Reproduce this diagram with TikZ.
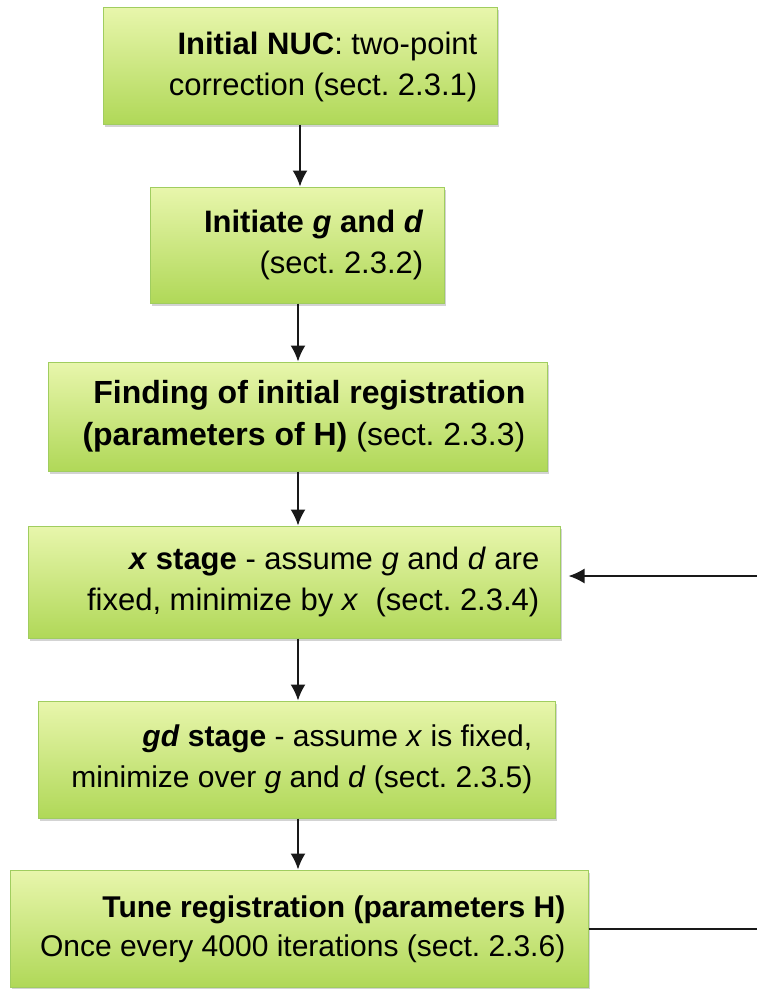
\documentclass[tikz,border=0pt]{standalone}
\usepackage{fontspec}
\setmainfont{Liberation Sans}
\frenchspacing
\usetikzlibrary{arrows.meta,shadows}
\definecolor{boxtop}{RGB}{232,246,172}
\definecolor{boxbot}{RGB}{176,216,88}
\definecolor{boxline}{RGB}{160,205,95}
\definecolor{arrowcol}{RGB}{25,25,25}
\tikzset{
  stagebox/.style={draw=boxline, line width=1pt, top color=boxtop, bottom color=boxbot,
    inner sep=0pt,
    drop shadow={opacity=0.35, shadow xshift=2pt, shadow yshift=-3pt}},
  stagetext/.style={anchor=east, inner sep=0pt, align=right,
    font=\fontsize{31pt}{41pt}\selectfont, text=black},
  flow/.style={draw=arrowcol, line width=1.8pt, -{Latex[length=16pt,width=15pt]}},
  plainline/.style={draw=arrowcol, line width=1.8pt}
}
\begin{document}
\begin{tikzpicture}[x=1pt,y=-1pt]
\useasboundingbox (0,0) rectangle (756,989);
\node[stagebox, minimum width=394pt, minimum height=117pt] (b1) at (300,65.5) {};
\node[stagebox, minimum width=294pt, minimum height=116pt] (b2) at (297,245) {};
\node[stagebox, minimum width=499pt, minimum height=109pt] (b3) at (297.5,416.5) {};
\node[stagebox, minimum width=532pt, minimum height=112pt] (b4) at (294,582) {};
\node[stagebox, minimum width=517pt, minimum height=117pt] (b5) at (296.5,759.5) {};
\node[stagebox, minimum width=578pt, minimum height=117pt] (b6) at (299,928.5) {};

\node[stagetext] (t1) at ([xshift=-20pt,yshift=-1pt]b1.east)
  {\textbf{Initial NUC}: two-point\\correction (sect. 2.3.1)};
\node[stagetext] (t2) at ([xshift=-21pt]b2.east)
  {\textbf{Initiate \textit{g} and \textit{d}}\\(sect. 2.3.2)};
\node[stagetext, font=\fontsize{32pt}{42pt}\selectfont] (t3) at ([xshift=-22pt]b3.east)
  {\textbf{Finding of initial registration}\\\textbf{(parameters of H)} (sect. 2.3.3)};
\node[stagetext] (t4) at ([xshift=-21pt]b4.east)
  {\textbf{\textit{x} stage} - assume \textit{g} and \textit{d} are\\fixed, minimize by \textit{x}\ \ (sect. 2.3.4)};
\node[stagetext, font=\fontsize{30pt}{41pt}\selectfont] (t5) at ([xshift=-23pt]b5.east)
  {\textbf{\textit{gd} stage} - assume \textit{x} is fixed,\\minimize over \textit{g} and \textit{d} (sect. 2.3.5)};
\node[stagetext, font=\fontsize{30pt}{39pt}\selectfont] (t6) at ([xshift=-23pt,yshift=-1pt]b6.east)
  {\textbf{Tune registration (parameters H)}\\Once every 4000 iterations (sect. 2.3.6)};

\draw[flow] (b1.south -| 300,0) -- (b2.north -| 300,0);
\draw[flow] (b2.south -| 298,0) -- (b3.north -| 298,0);
\draw[flow] (b3.south -| 298,0) -- (b4.north -| 298,0);
\draw[flow] (b4.south -| 298,0) -- (b5.north -| 298,0);
\draw[flow] (b5.south -| 298,0) -- (b6.north -| 298,0);
\coordinate (fbout) at (757,929);
\coordinate (fbin) at (757,576);
\draw[plainline] (b6.east |- fbout) -- (fbout);
\draw[flow, shorten >=8pt] (fbin) -- (b4.east |- fbin);
\end{tikzpicture}
\end{document}
